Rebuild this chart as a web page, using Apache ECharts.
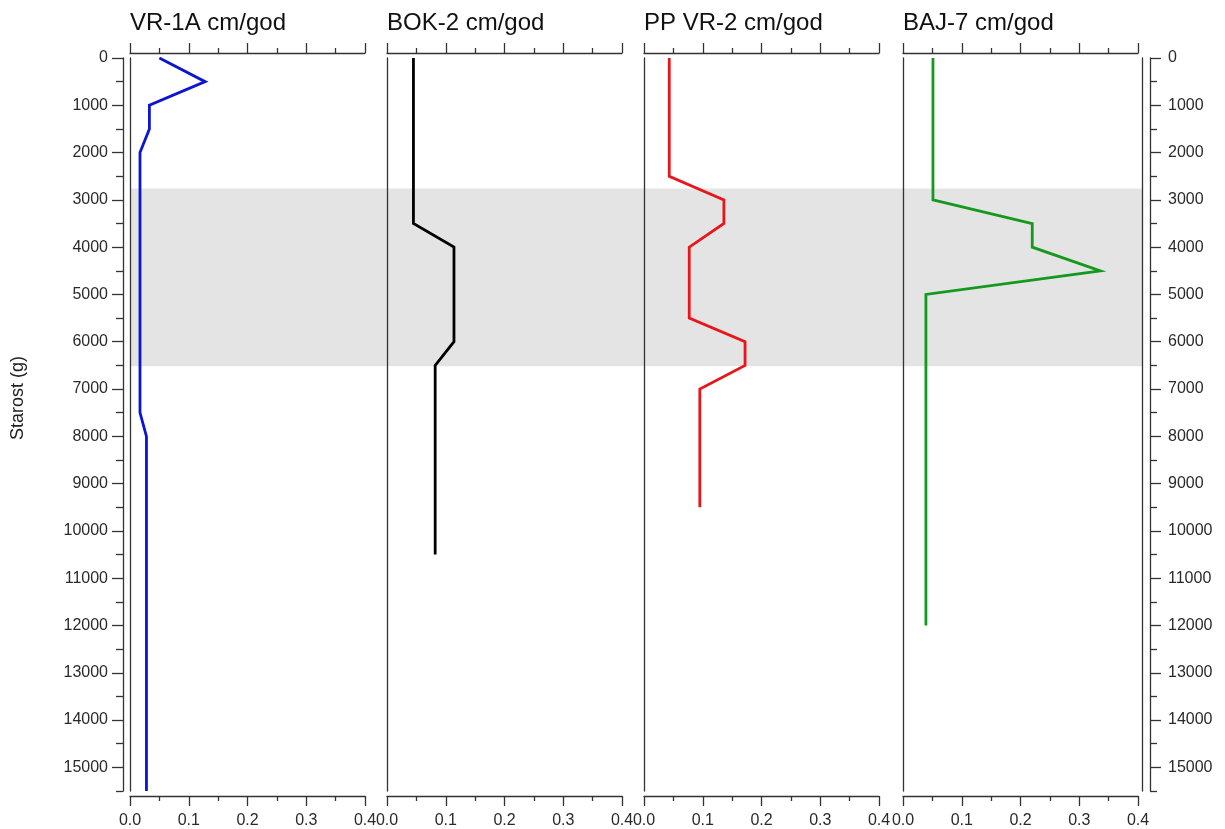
<!DOCTYPE html>
<html>
<head>
<meta charset="utf-8">
<script src="https://cdn.jsdelivr.net/npm/echarts@6/dist/echarts.min.js"></script>
<style>
html,body{margin:0;padding:0;background:#fff;}
#chart{width:1225px;height:829px;}
</style>
</head>
<body>
<div id="chart"></div>
<script>
// ---- data ----
const panelTitles = ['VR-1A cm/god', 'BOK-2 cm/god', 'PP VR-2 cm/god', 'BAJ-7 cm/god'];
const panelColors = ['#0a14d2', '#000000', '#e8161a', '#15991c'];
const ageTicks = [0, 1000, 2000, 3000, 4000, 5000, 6000, 7000, 8000, 9000, 10000, 11000, 12000, 13000, 14000, 15000];
const ageMinorTicks = [500, 1500, 2500, 3500, 4500, 5500, 6500, 7500, 8500, 9500, 10500, 11500, 12500, 13500, 14500, 15500];
const rateTicks = [0, 0.1, 0.2, 0.3, 0.4];
const ageMax = 15500;
const bandRange = [2750, 6500];

const vr1aAge  = [0, 500, 1000, 1500, 2000, 7500, 8000, 15500];
const vr1aRate = [0.05, 0.128, 0.033, 0.033, 0.017, 0.017, 0.028, 0.028];

const bok2Age  = [0, 3500, 4000, 6000, 6500, 10500];
const bok2Rate = [0.045, 0.045, 0.114, 0.114, 0.082, 0.082];

const ppvr2Age  = [0, 2500, 3000, 3500, 4000, 5500, 6000, 6500, 7000, 9500];
const ppvr2Rate = [0.043, 0.043, 0.136, 0.136, 0.077, 0.077, 0.172, 0.172, 0.095, 0.095];

const baj7Age  = [0, 3000, 3500, 4000, 4500, 5000, 12000];
const baj7Rate = [0.051, 0.051, 0.22, 0.22, 0.336, 0.039, 0.039];

const panelAges = [vr1aAge, bok2Age, ppvr2Age, baj7Age];
const panelRates = [vr1aRate, bok2Rate, ppvr2Rate, baj7Rate];

// ---- layout ----
const panelLefts = [130, 387, 644, 903];
const panelWidth = 235;
const plotTop = 58;
const plotHeight = 735;
const axisColor = '#333';
const labelFont = {fontFamily: 'Liberation Sans, Arial, sans-serif', fontSize: 16, color: '#2a2a2a'};

const chart = echarts.init(document.getElementById('chart'), null, {renderer: 'canvas'});

const grids = [{left: panelLefts[0], top: plotTop, width: panelLefts[3] + panelWidth + 4 - panelLefts[0], height: plotHeight}];
panelLefts.forEach(l => grids.push({left: l, top: plotTop, width: panelWidth, height: plotHeight}));

const xAxes = [{gridIndex: 0, type: 'value', min: 0, max: 1, show: false}];
const yAxes = [{gridIndex: 0, type: 'value', min: 0, max: ageMax, inverse: true, show: false}];

const lineStyle = {color: axisColor, width: 1.3};

panelLefts.forEach((l, p) => {
  const common = {
    gridIndex: p + 1, type: 'value', min: 0, max: 0.4, interval: 0.1,
    axisLine: {show: true, onZero: false, lineStyle: lineStyle},
    axisTick: {show: true, length: 10, lineStyle: lineStyle},
    minorTick: {show: true, splitNumber: 2, length: 5, lineStyle: lineStyle},
    splitLine: {show: false}, minorSplitLine: {show: false}
  };
  xAxes.push(Object.assign({}, common, {position: 'top', offset: 5, axisLabel: {show: false}}));
  xAxes.push(Object.assign({}, common, {position: 'bottom', offset: 5,
    axisLabel: Object.assign({show: true, margin: 17, formatter: v => v.toFixed(1)}, labelFont)}));
});

// main panel y axes (panel left border)
panelLefts.forEach((l, p) => {
  yAxes.push({gridIndex: p + 1, type: 'value', min: 0, max: ageMax, inverse: true, position: 'left',
    axisLine: {show: true, onZero: false, lineStyle: lineStyle}, axisTick: {show: false}, axisLabel: {show: false},
    splitLine: {show: false}});
});

function outerAxis(grid, pos, offset, major) {
  return {gridIndex: grid, type: 'value', min: 0, max: ageMax, inverse: true, position: pos, offset: offset,
    axisLine: {show: major, onZero: false, lineStyle: lineStyle},
    axisTick: {show: true, length: major ? 11 : 7, lineStyle: lineStyle,
      customValues: major ? ageTicks : ageMinorTicks},
    axisLabel: major ? Object.assign({show: true, margin: pos === 'left' ? 15 : 18, customValues: ageTicks,
      formatter: v => String(v)}, labelFont) : {show: false},
    splitLine: {show: false}};
}
yAxes.push(outerAxis(1, 'left', 7, true));
yAxes.push(outerAxis(1, 'left', 7, false));
yAxes.push({gridIndex: 4, type: 'value', min: 0, max: ageMax, inverse: true, position: 'right', offset: 4,
  axisLine: {show: true, onZero: false, lineStyle: lineStyle}, axisTick: {show: false}, axisLabel: {show: false}, splitLine: {show: false}});
yAxes.push(outerAxis(4, 'right', 12, true));
yAxes.push(outerAxis(4, 'right', 12, false));

const series = [{
  type: 'custom', xAxisIndex: 0, yAxisIndex: 0, z: -10, silent: true,
  data: [bandRange],
  renderItem: function (params, api) {
    const cs = params.coordSys;
    const y0 = api.coord([0, api.value(0)])[1];
    const y1 = api.coord([0, api.value(1)])[1];
    return {type: 'rect', shape: {x: cs.x, y: y0, width: cs.width, height: y1 - y0},
      style: {fill: '#e4e4e4'}};
  }
}];

panelLefts.forEach((l, p) => {
  series.push({
    type: 'line', xAxisIndex: 1 + 2 * p, yAxisIndex: 1 + p,
    data: panelAges[p].map((a, i) => [panelRates[p][i], a]),
    symbol: 'none', silent: true, z: 5,
    lineStyle: {color: panelColors[p], width: 2.8, join: 'miter'},
    itemStyle: {color: panelColors[p]}
  });
});

const titles = panelTitles.map((t, p) => ({
  text: t, left: panelLefts[p], top: 11, padding: 0,
  textStyle: {fontFamily: 'Liberation Sans, Arial, sans-serif', fontSize: 24, fontWeight: 'normal', color: '#111'}
}));

chart.setOption({
  backgroundColor: '#fff',
  animation: false,
  title: titles,
  grid: grids,
  xAxis: xAxes,
  yAxis: yAxes,
  series: series,
  graphic: [{
    type: 'text', x: 18, y: 398, rotation: Math.PI / 2,
    style: {text: 'Starost (g)', fontFamily: 'Liberation Sans, Arial, sans-serif', fontSize: 18, fill: '#222',
      align: 'center', verticalAlign: 'middle'}
  }]
});
</script>
</body>
</html>
